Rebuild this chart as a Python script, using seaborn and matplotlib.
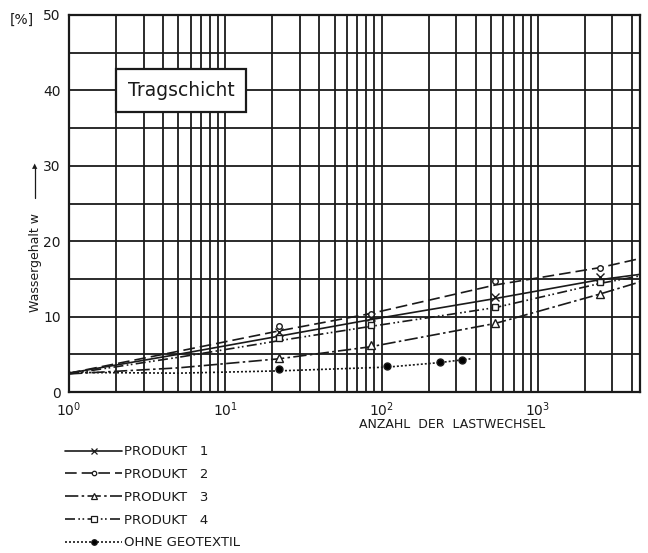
import numpy as np
import matplotlib
matplotlib.use("Agg")
import matplotlib.pyplot as plt
import seaborn as sns
from matplotlib.ticker import LogLocator, MultipleLocator, NullFormatter

# --- data ---
SERIES = ["PRODUKT   1", "PRODUKT   2", "PRODUKT   3", "PRODUKT   4", "OHNE GEOTEXTIL"]

# measured points (markers)
p1_x = [22, 85, 535, 2500]
p1_y = [7.9, 9.9, 12.6, 15.2]
p2_x = [22, 85, 535, 2500]
p2_y = [8.7, 10.4, 14.7, 16.4]
p3_x = [22, 85, 535, 2500]
p3_y = [4.5, 6.2, 9.1, 13.0]
p4_x = [22, 85, 535, 2500]
p4_y = [7.1, 8.9, 11.3, 14.6]
og_x = [22, 109, 235, 325]
og_y = [3.0, 3.4, 4.0, 4.2]

# fitted trend curves
c1_x = [1, 5, 22, 85, 535, 2500, 4500]
c1_y = [2.5, 5.0, 7.4, 9.6, 12.4, 14.9, 15.6]
c2_x = [1, 5, 22, 85, 535, 2500, 4500]
c2_y = [2.5, 5.4, 8.1, 10.4, 14.2, 16.5, 17.7]
c3_x = [1, 5, 22, 85, 535, 2500, 4500]
c3_y = [2.4, 3.2, 4.4, 6.0, 9.1, 13.0, 14.6]
c4_x = [1, 5, 22, 85, 535, 2500, 4500]
c4_y = [2.4, 4.6, 6.8, 8.7, 11.2, 14.4, 15.4]
cg_x = [1, 5, 22, 109, 235, 370]
cg_y = [2.6, 2.5, 2.8, 3.3, 3.9, 4.4]

STYLES = [
    dict(ls="-", marker="x", ms=6, mfc="none"),
    dict(ls=(0, (7, 3)), marker="o", ms=4, mfc="white"),
    dict(ls=(0, (8, 2, 1.5, 2)), marker="^", ms=6, mfc="white"),
    dict(ls=(0, (6, 2, 1, 1.5, 1, 2)), marker="s", ms=5, mfc="white"),
    dict(ls=(0, (1.2, 1.2)), marker="o", ms=5, mfc="black"),
]

curves = [(c1_x, c1_y), (c2_x, c2_y), (c3_x, c3_y), (c4_x, c4_y), (cg_x, cg_y)]
points = [(p1_x, p1_y), (p2_x, p2_y), (p3_x, p3_y), (p4_x, p4_y), (og_x, og_y)]

sns.set_style("white")
plt.rcParams["font.family"] = ["DejaVu Sans"]
INK = "#1a1a1a"

fig = plt.figure(figsize=(6.48, 5.53), dpi=100)
ax = fig.add_axes([69 / 648, 1 - 392 / 553, (640 - 69) / 648, (392 - 15) / 553])

handles = []
for (cx, cy), (px, py), st, name in zip(curves, points, STYLES, SERIES):
    sns.lineplot(x=cx, y=cy, ax=ax, color=INK, lw=1.2, linestyle=st["ls"], sort=True)
    ax.plot(px, py, ls="none", marker=st["marker"], ms=st["ms"], mfc=st["mfc"],
            mec=INK, mew=1.0, zorder=4)
    h, = ax.plot([], [], color=INK, lw=1.2, linestyle=st["ls"], marker=st["marker"],
                 ms=st["ms"] * 0.8, mfc=st["mfc"], mec=INK, mew=0.9)
    handles.append(h)

ax.set_xscale("log")
ax.set_xlim(1, 4500)
ax.set_ylim(0, 50)
ax.xaxis.set_major_locator(LogLocator(base=10, numticks=10))
ax.xaxis.set_minor_locator(LogLocator(base=10, subs=np.arange(2, 10), numticks=100))
ax.xaxis.set_minor_formatter(NullFormatter())
ax.yaxis.set_major_locator(MultipleLocator(10))
ax.yaxis.set_minor_locator(MultipleLocator(5))

ax.grid(True, which="both", color=INK, lw=1.3)
ax.set_axisbelow(True)
for s in ax.spines.values():
    s.set_color(INK)
    s.set_linewidth(1.6)
ax.tick_params(which="both", length=0, labelsize=10, colors=INK, pad=6)

ax.set_xlabel("")
ax.set_ylabel("")
fig.text(452 / 648, 1 - 425 / 553, "ANZAHL  DER  LASTWECHSEL", ha="center", va="center",
         fontsize=9, color=INK)
fig.text(35 / 648, 1 - 262 / 553, "Wassergehalt w", rotation=90, ha="center",
         va="center", fontsize=9, color=INK)
fig.add_artist(plt.Line2D([35 / 648, 35 / 648], [1 - 198 / 553, 1 - 168 / 553],
                          color=INK, lw=0.9))
fig.text(35 / 648, 1 - 166 / 553, "\u25b2", ha="center", va="center", fontsize=5, color=INK)
fig.text(22 / 648, 1 - 20 / 553, "[%]", ha="center", va="center", fontsize=10, color=INK)

ax.text(0.196, 0.80, "Tragschicht", transform=ax.transAxes, fontsize=13.5, color=INK,
        ha="center", va="center",
        bbox=dict(boxstyle="square,pad=0.62", fc="white", ec=INK, lw=1.6))

leg = fig.legend(handles, SERIES, loc="upper left", bbox_to_anchor=(60 / 648, 1 - 440 / 553),
                 frameon=False, fontsize=9.5, handlelength=4.3, handletextpad=0.15,
                 labelspacing=0.74, borderaxespad=0)
for t in leg.get_texts():
    t.set_color(INK)

fig.savefig("out.png", dpi=100)
